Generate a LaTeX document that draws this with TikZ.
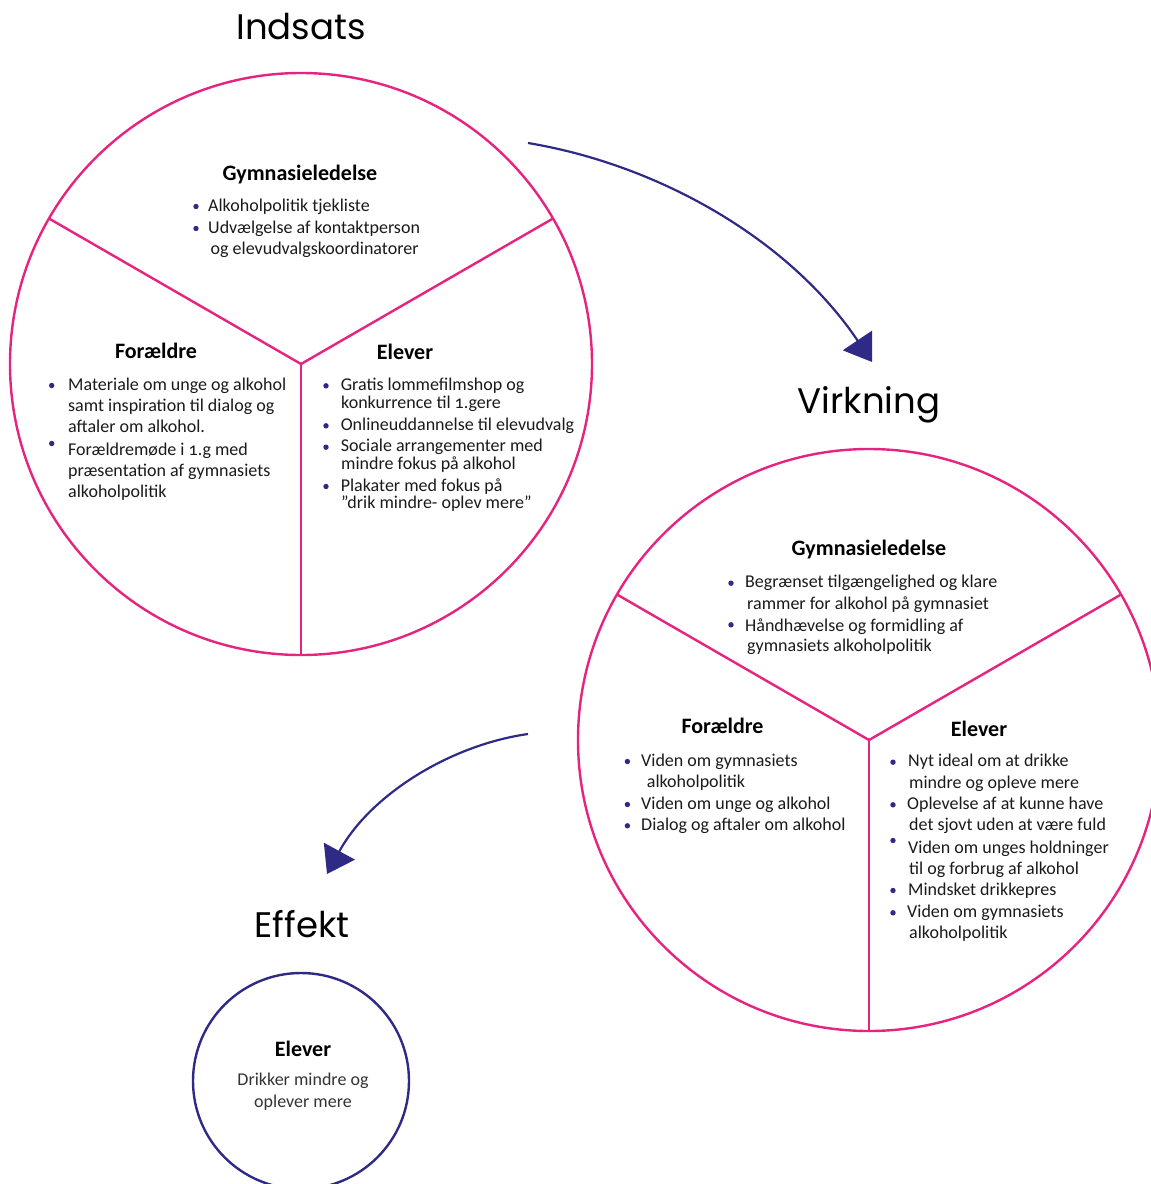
\documentclass[tikz,border=0pt]{standalone}
\usepackage{fontspec}
\setmainfont{Carlito}[Numbers=OldStyle]
\newfontfamily\titlefont{Poppins}
\usetikzlibrary{arrows.meta}
\definecolor{pinkc}{HTML}{E6237F}
\definecolor{indigo}{HTML}{2E2A86}
\definecolor{txt}{HTML}{1A1A1A}
\tikzset{
  ring/.style={circle, draw=pinkc, line width=2.4pt, minimum size=582pt, inner sep=0pt, outer sep=0pt},
  divline/.style={draw=pinkc, line width=2.4pt},
  head/.style={font=\fontsize{22}{26}\selectfont\bfseries, anchor=base, inner sep=0pt, text=black},
  body/.style={font=\fontsize{18}{21}\selectfont, anchor=base west, inner sep=0pt, text=txt},
  cbody/.style={font=\fontsize{18}{21}\selectfont, anchor=base, inner sep=0pt, text=black!80},
  bul/.style={circle, fill=indigo, inner sep=0pt, minimum size=5.4pt},
  titletext/.style={font=\titlefont\fontsize{35.5}{40}\selectfont, anchor=base, inner sep=0pt, text=black},
  arr/.style={draw=indigo, line width=2.2pt, -{Triangle[length=26pt,width=35pt]}}
}
\begin{document}
\begin{tikzpicture}[x=1pt,y=-1pt]
\useasboundingbox (0,0) rectangle (1151,1184);

% titles
\node[titletext] (t1) at (301,39.3) {Indsats};
\node[titletext] (t2) at (869,413) {Virkning};
\node[titletext] (t3) at (302,937) {Effekt};

% circle 1
\node[ring] (c1) at (301,364) {};
\draw[divline] (c1.center) -- (c1.150);
\draw[divline] (c1.center) -- (c1.30);
\draw[divline] (c1.center) -- (c1.270);

\node[head] (h1g) at (300,180) {Gymnasieledelse};
\foreach \x/\y/\t [count=\i] in {208/206/{Alkoholpolitik tjekliste},208/228/{Udvælgelse af kontaktperson},210.5/249/{og elevudvalgskoordinatorer}}
  \node[body] (l1g\i) at (\x,\y+5) {\t};
\foreach \y [count=\i] in {206,228}
  \node[bul] (b1g\i) at (196,\y+0.5) {};

\node[head] (h1f) at (156,358) {Forældre};
\foreach \x/\y/\t [count=\i] in {68/385/{Materiale om unge og alkohol},68/406.7/{samt inspiration til dialog og},68/427.7/{aftaler om alkohol.},68/450/{Forældremøde i 1.g med},68/471.7/{præsentation af gymnasiets},68/492.7/{alkoholpolitik}}
  \node[body] (l1f\i) at (\x,\y+5) {\t};
\foreach \y [count=\i] in {385,443}
  \node[bul] (b1f\i) at (51.7,\y+0.5) {};

\node[head] (h1e) at (405,359) {Elever};
\foreach \x/\y/\t [count=\i] in {340.6/385.3/{Gratis lommefilmshop og},341/403.3/{konkurrence til 1.gere},340.6/425.3/{Onlineuddannelse til elevudvalg},340.6/446/{Sociale arrangementer med},341/464.3/{mindre fokus på alkohol},340.6/486/{Plakater med fokus på},341/503.3/{”drik mindre- oplev mere”}}
  \node[body] (l1e\i) at (\x,\y+5) {\t};
\foreach \y [count=\i] in {385.3,425.3,446.7,486}
  \node[bul] (b1e\i) at (326,\y+0.5) {};

% circle 2
\node[ring] (c2) at (869,740) {};
\draw[divline] (c2.center) -- (c2.150);
\draw[divline] (c2.center) -- (c2.30);
\draw[divline] (c2.center) -- (c2.270);

\node[head] (h2g) at (869,555) {Gymnasieledelse};
\foreach \x/\y/\t [count=\i] in {745/582.7/{Begrænset tilgængelighed og klare},747/604/{rammer for alkohol på gymnasiet},745/626/{Håndhævelse og formidling af},747/646.7/{gymnasiets alkoholpolitik}}
  \node[body] (l2g\i) at (\x,\y+5) {\t};
\foreach \y [count=\i] in {582.7,624.3}
  \node[bul] (b2g\i) at (731,\y+0.5) {};

\node[head] (h2f) at (722.5,733) {Forældre};
\foreach \x/\y/\t [count=\i] in {641/761/{Viden om gymnasiets},646.7/782.3/{alkoholpolitik},641/804/{Viden om unge og alkohol},641/825.3/{Dialog og aftaler om alkohol}}
  \node[body] (l2f\i) at (\x,\y+5) {\t};
\foreach \y [count=\i] in {761,804,825.3}
  \node[bul] (b2f\i) at (627.4,\y+0.5) {};

\node[head] (h2e) at (979,736) {Elever};
\foreach \x/\y/\t [count=\i] in {908/761.7/{Nyt ideal om at drikke},909/783.3/{mindre og opleve mere},907/804.3/{Oplevelse af at kunne have},909/825.7/{det sjovt uden at være fuld},908/848.3/{Viden om unges holdninger},909/869/{til og forbrug af alkohol},908/890/{Mindsket drikkepres},907/912.3/{Viden om gymnasiets},909/933.3/{alkoholpolitik}}
  \node[body] (l2e\i) at (\x,\y+5) {\t};
\foreach \y [count=\i] in {761.7,804.3,840,890,912.3}
  \node[bul] (b2e\i) at (893,\y+0.5) {};

% small circle
\node[circle, draw=indigo, line width=2.4pt, minimum size=216pt, inner sep=0pt] (c3) at (301,1081) {};
\node[head] (h3e) at (303,1056) {Elever};
\node[cbody] (l3a) at (303,1085) {Drikker mindre og};
\node[cbody] (l3b) at (303,1107) {oplever mere};

% arrows
\coordinate (a1s) at (528,143);
\coordinate (a1e) at (872,362);
\coordinate (a2s) at (528,734);
\coordinate (a2e) at (327,874);
\draw[arr] (a1s) .. controls (660,165) and (790,240) .. (a1e);
\draw[arr] (a2s) .. controls (450,745) and (370,795) .. (a2e);
\end{tikzpicture}
\end{document}
